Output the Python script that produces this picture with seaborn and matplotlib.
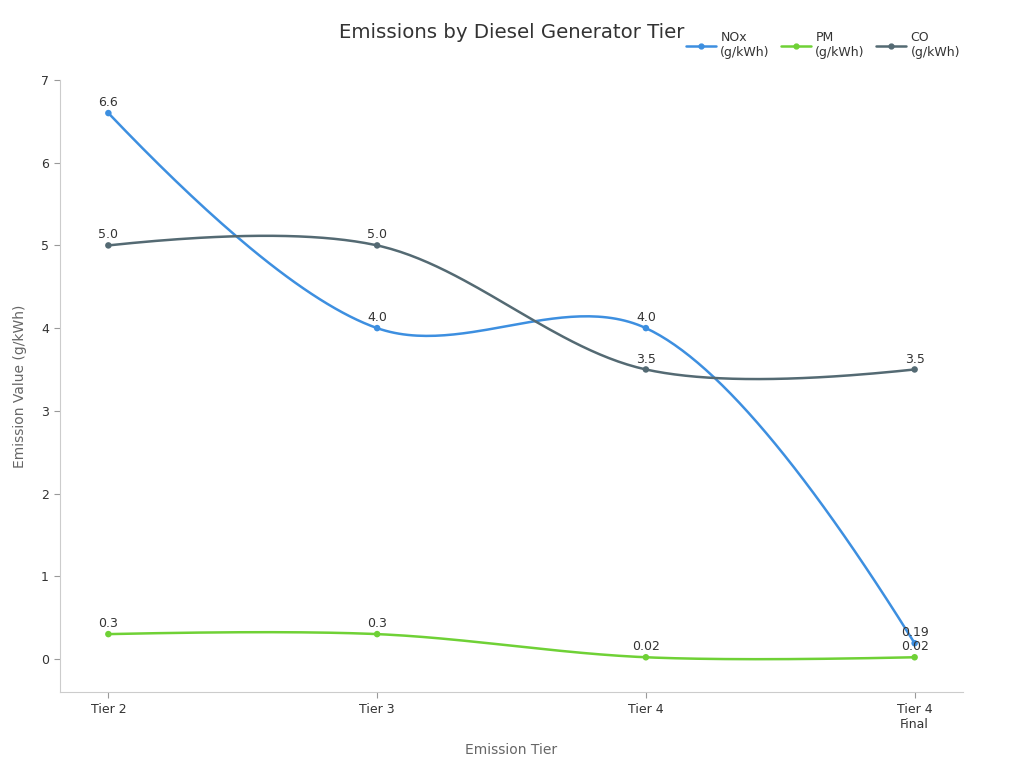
import numpy as np
import pandas as pd
import matplotlib
matplotlib.use("Agg")
import matplotlib.pyplot as plt
import seaborn as sns
from matplotlib.lines import Line2D

tiers = ["Tier 2", "Tier 3", "Tier 4", "Tier 4\nFinal"]
nox = [6.6, 4.0, 4.0, 0.19]
pm = [0.3, 0.3, 0.02, 0.02]
co = [5.0, 5.0, 3.5, 3.5]
series_names = ["NOx\n(g/kWh)", "PM\n(g/kWh)", "CO\n(g/kWh)"]
colors = ["#3d8fe0", "#6fd136", "#546a73"]

sns.set_theme(style="white")
plt.rcParams['font.family'] = ['DejaVu Sans']

fig = plt.figure(figsize=(10.24, 7.68), dpi=100)
ax = fig.add_axes([60/1024, 1-692/768, (963-60)/1024, (692-80)/768])
ax.set_xlim(-0.18, 3.18)
ax.set_ylim(-0.4, 7.0)


def make_tangent(p0, p1, p2, smoothness=1.0):
    d1 = p0 - p1
    d2 = p2 - p1
    d1a = np.hypot(*d1) ** 0.5
    d2a = np.hypot(*d2) ** 0.5
    num = (d2a * d2a * d1 - d1a * d1a * d2) * smoothness
    den1 = 3 * d2a * (d1a + d2a)
    den2 = 3 * d1a * (d1a + d2a)
    a = p1 + (num / den1 if den1 else 0)
    b = p1 - (num / den2 if den2 else 0)
    return a, b


def smooth_curve(xs, ys, n=60):
    pts = ax.transData.transform(np.column_stack([xs, ys]))
    m = len(pts)
    tans = [make_tangent(pts[i-1], pts[i], pts[i+1]) for i in range(1, m-1)]
    t = np.linspace(0, 1, n)[:, None]
    segs = []
    c = tans[0][0]
    segs.append((1-t)**2*pts[0] + 2*(1-t)*t*c + t**2*pts[1])
    for i in range(2, m-1):
        p0, c1, c2, p3 = pts[i-1], tans[i-2][1], tans[i-1][0], pts[i]
        segs.append(((1-t)**3*p0 + 3*(1-t)**2*t*c1 + 3*(1-t)*t**2*c2 + t**3*p3)[1:])
    c = tans[-1][1]
    segs.append(((1-t)**2*pts[m-2] + 2*(1-t)*t*c + t**2*pts[m-1])[1:])
    out = np.vstack(segs)
    return ax.transData.inverted().transform(out)


xpos = np.arange(len(tiers))
all_series = [nox, pm, co]
curve_frames = []
point_frames = []
for name, vals in zip(series_names, all_series):
    c = smooth_curve(xpos, np.array(vals, float))
    curve_frames.append(pd.DataFrame({"x": c[:, 0], "y": c[:, 1], "s": name}))
    point_frames.append(pd.DataFrame({"x": xpos, "y": vals, "s": name}))
curves = pd.concat(curve_frames, ignore_index=True)
points = pd.concat(point_frames, ignore_index=True)
palette = dict(zip(series_names, colors))

sns.lineplot(data=curves, x="x", y="y", hue="s", palette=palette, estimator=None,
             sort=False, units="s", linewidth=1.8, ax=ax, legend=False)
sns.scatterplot(data=points, x="x", y="y", hue="s", palette=palette, s=22,
                edgecolor="none", ax=ax, legend=False, zorder=3)


def fmt(v):
    return f"{v:.1f}" if round(v, 1) == v else f"{v:g}"

for name, vals in zip(series_names, all_series):
    for x, v in zip(xpos, vals):
        ax.annotate(fmt(v), (x, v), xytext=(0, 7.5), textcoords="offset points",
                    ha="center", va="center", fontsize=9, color="#333333")

ax.set_xticks(xpos)
ax.set_xticklabels(tiers, fontsize=9, color="#333333")
ax.set_yticks(range(0, 8))
ax.set_yticklabels([str(i) for i in range(0, 8)], fontsize=9, color="#333333")
ax.tick_params(axis="both", which="both", length=4, width=0.8, color="#999999",
               bottom=True, left=True, pad=4)
for s in ["top", "right"]:
    ax.spines[s].set_visible(False)
for s in ["left", "bottom"]:
    ax.spines[s].set_color("#cccccc")
    ax.spines[s].set_linewidth(0.8)
ax.grid(False)

ax.set_xlabel("Emission Tier", fontsize=10, color="#666666")
ax.set_ylabel("Emission Value (g/kWh)", fontsize=10, color="#666666")
ax.xaxis.set_label_coords(0.5, (692-750)/612)
ax.yaxis.set_label_coords((20-60)/903, 0.5)
ax.xaxis.label.set_va("center")
ax.yaxis.label.set_va("center")

fig.text(512/1024, 1-33/768, "Emissions by Diesel Generator Tier", ha="center", va="center",
         fontsize=14.2, color="#333333")

handles = [Line2D([0], [0], color=c, lw=1.8, marker="o", markersize=3.5) for c in colors]
fig.legend(handles, series_names, loc="upper right", bbox_to_anchor=(960/1024, 1-31/768),
           ncol=3, frameon=False, fontsize=9, handlelength=2.4, handletextpad=0.35,
           columnspacing=0.9, labelcolor="#333333", borderaxespad=0, borderpad=0)

fig.savefig("out.png", dpi=100)
